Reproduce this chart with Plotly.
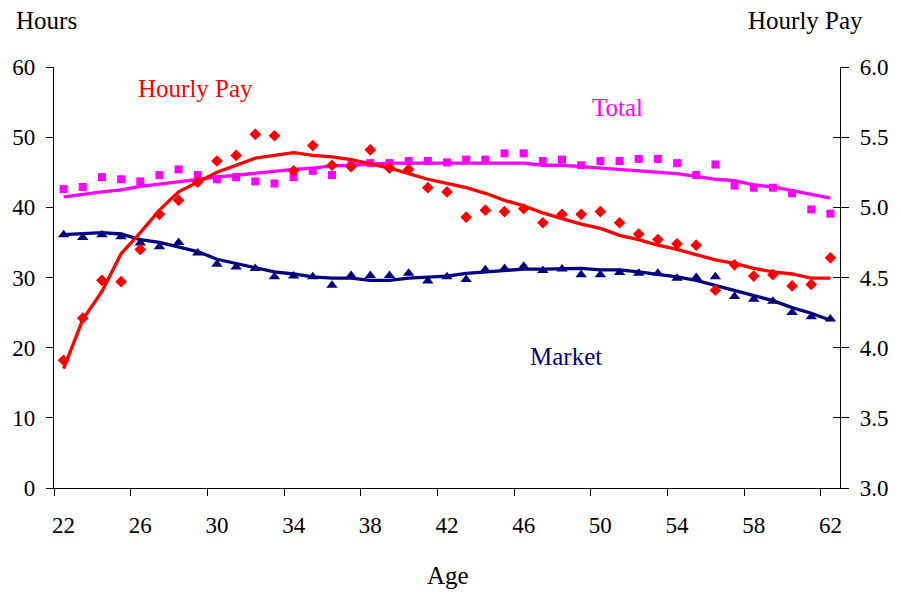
import plotly.graph_objects as go

ages = list(range(22, 63))
age_labels = [22, 26, 30, 34, 38, 42, 46, 50, 54, 58, 62]
age_bounds = [21.5, 25.5, 29.5, 33.5, 37.5, 41.5, 45.5, 49.5, 53.5, 57.5, 61.5]

# Total hours: observed points and smoothed profile
total_pts = [42.6, 42.9, 44.3, 44.0, 43.7, 44.6, 45.4, 44.6, 44.0, 44.3,
             43.7, 43.4, 44.3, 45.2, 44.6, 46.0, 46.3, 46.3, 46.6, 46.6,
             46.4, 46.8, 46.8, 47.7, 47.7, 46.6, 46.8, 46.0, 46.6, 46.6,
             46.9, 46.9, 46.3, 44.6, 46.1, 43.1, 42.8, 42.8, 42.0, 39.7, 39.1]
total_fit = [41.5, 41.9, 42.2, 42.5, 43.0, 43.3, 43.7, 44.0, 44.3, 44.6,
             44.8, 45.2, 45.4, 45.6, 45.9, 46.0, 46.2, 46.3, 46.3, 46.3,
             46.3, 46.3, 46.3, 46.3, 46.3, 46.0, 46.0, 45.8, 45.6, 45.4,
             45.3, 45.0, 44.8, 44.4, 44.0, 43.8, 43.2, 42.9, 42.4, 41.8, 41.3]

# Market hours
market_pts = [36.1, 35.7, 36.1, 35.8, 34.9, 34.4, 35.0, 33.5, 31.9, 31.5,
              31.3, 30.1, 30.2, 30.1, 28.9, 30.3, 30.3, 30.3, 30.6, 29.5,
              30.1, 29.7, 31.1, 31.3, 31.6, 31.0, 31.2, 30.4, 30.4, 30.7,
              30.6, 30.6, 29.9, 30.0, 30.1, 27.3, 26.9, 26.6, 25.0, 24.4, 24.1]
market_fit = [36.1, 36.3, 36.4, 36.2, 35.4, 35.0, 34.4, 33.7, 32.6, 32.0,
              31.3, 30.8, 30.5, 30.1, 29.9, 29.9, 29.6, 29.6, 29.9, 30.0,
              30.2, 30.6, 30.8, 31.1, 31.2, 31.2, 31.3, 31.3, 31.1, 31.1,
              30.8, 30.5, 30.1, 29.6, 28.9, 28.2, 27.5, 26.7, 25.7, 24.9, 23.9]

# Hourly pay (right axis)
pay_pts = [3.91, 4.21, 4.48, 4.47, 4.70, 4.95, 5.05, 5.18, 5.33, 5.37,
           5.52, 5.51, 5.26, 5.44, 5.30, 5.29, 5.41, 5.28, 5.27, 5.14,
           5.11, 4.93, 4.98, 4.97, 4.99, 4.89, 4.95, 4.95, 4.97, 4.89,
           4.81, 4.77, 4.74, 4.73, 4.41, 4.59, 4.51, 4.52, 4.44, 4.45, 4.64]
pay_fit = [3.85, 4.20, 4.40, 4.67, 4.82, 4.98, 5.11, 5.18, 5.25, 5.30,
           5.35, 5.37, 5.39, 5.37, 5.36, 5.34, 5.31, 5.28, 5.24, 5.20,
           5.17, 5.14, 5.10, 5.05, 5.01, 4.96, 4.92, 4.88, 4.85, 4.80,
           4.77, 4.73, 4.70, 4.66, 4.625, 4.60, 4.565, 4.54, 4.525, 4.495, 4.495]

MAGENTA = "#FF00FF"
RED = "#FF0000"
NAVY = "#000080"
FONT = "Liberation Serif"

fig = go.Figure()

fig.add_trace(go.Scatter(x=ages, y=total_pts, mode="markers",
                         marker=dict(symbol="square", size=8, color=MAGENTA)))
fig.add_trace(go.Scatter(x=ages, y=market_pts, mode="markers",
                         marker=dict(symbol="triangle-up", size=10, color=NAVY)))
fig.add_trace(go.Scatter(x=ages, y=pay_pts, mode="markers", yaxis="y2",
                         marker=dict(symbol="diamond", size=9, color=RED)))

fig.add_trace(go.Scatter(x=ages, y=total_fit, mode="lines",
                         line=dict(color=MAGENTA, width=3.3)))
fig.add_trace(go.Scatter(x=ages, y=market_fit, mode="lines",
                         line=dict(color=NAVY, width=3.3)))
fig.add_trace(go.Scatter(x=ages, y=pay_fit, mode="lines", yaxis="y2",
                         line=dict(color=RED, width=3.3)))

tick_font = dict(family=FONT, size=23, color="black")

# plot area in pixels: x 54..844, y 67..488
L, R, T, B = 54, 57, 67, 106
W, H = 901, 594
PW, PH = W - L - R, H - T - B

fig.update_layout(
    width=W, height=H,
    margin=dict(l=L, r=R, t=T, b=B),
    paper_bgcolor="white", plot_bgcolor="white",
    showlegend=False,
    font=dict(family=FONT, size=23, color="black"),
    xaxis=dict(
        range=[21.5, 62.5], tickmode="array", tickvals=age_labels,
        ticks="", showgrid=False, zeroline=False,
        showline=True, linecolor="black", linewidth=1.3,
        tickfont=tick_font, ticklabelstandoff=16,
        minor=dict(tickmode="array", tickvals=age_bounds, ticks="outside",
                   ticklen=7, tickcolor="black", tickwidth=1, showgrid=False),
    ),
    yaxis=dict(
        range=[0, 60], tickmode="linear", tick0=0, dtick=10,
        ticks="outside", ticklen=7, tickcolor="black",
        showgrid=False, zeroline=False,
        showline=True, linecolor="black", linewidth=1.3,
        tickfont=tick_font, ticklabelstandoff=6,
    ),
    yaxis2=dict(
        range=[3, 6], tickmode="linear", tick0=3, dtick=0.5, tickformat=".1f",
        overlaying="y", side="right",
        ticks="outside", ticklen=8, tickcolor="black",
        showgrid=False, zeroline=False,
        showline=True, linecolor="black", linewidth=1.3,
        tickfont=tick_font, ticklabelstandoff=6,
    ),
    yaxis3=dict(
        range=[3, 6], tickmode="linear", tick0=3, dtick=0.5,
        overlaying="y", side="right",
        ticks="inside", ticklen=7, tickcolor="black",
        showticklabels=False, showgrid=False, zeroline=False, showline=False,
    ),
)

# keep yaxis3 in the layout by attaching an invisible trace
fig.add_trace(go.Scatter(x=[ages[0]], y=[3], yaxis="y3", mode="markers",
                         marker=dict(size=1, opacity=0), hoverinfo="skip"))

# axis captions, placed in figure pixels and converted to paper units
captions = [("Hours", 46, 20), ("Hourly Pay", 809, 20), ("Age", 450, 575)]
for text, px, py in captions:
    fig.add_annotation(text=text, x=(px - L) / PW, y=(H - B - py) / PH,
                       xref="paper", yref="paper", showarrow=False,
                       xanchor="center", yanchor="middle",
                       font=dict(family=FONT, size=25, color="black"))

series_labels = [("Hourly Pay", 28.9, 57.0, RED),
                 ("Total", 50.9, 54.3, MAGENTA),
                 ("Market", 48.2, 18.8, NAVY)]
for text, x, y, c in series_labels:
    fig.add_annotation(text=text, x=x, y=y, xref="x", yref="y", showarrow=False,
                       xanchor="center", yanchor="middle",
                       font=dict(family=FONT, size=25, color=c))

fig.write_html("out.html")
